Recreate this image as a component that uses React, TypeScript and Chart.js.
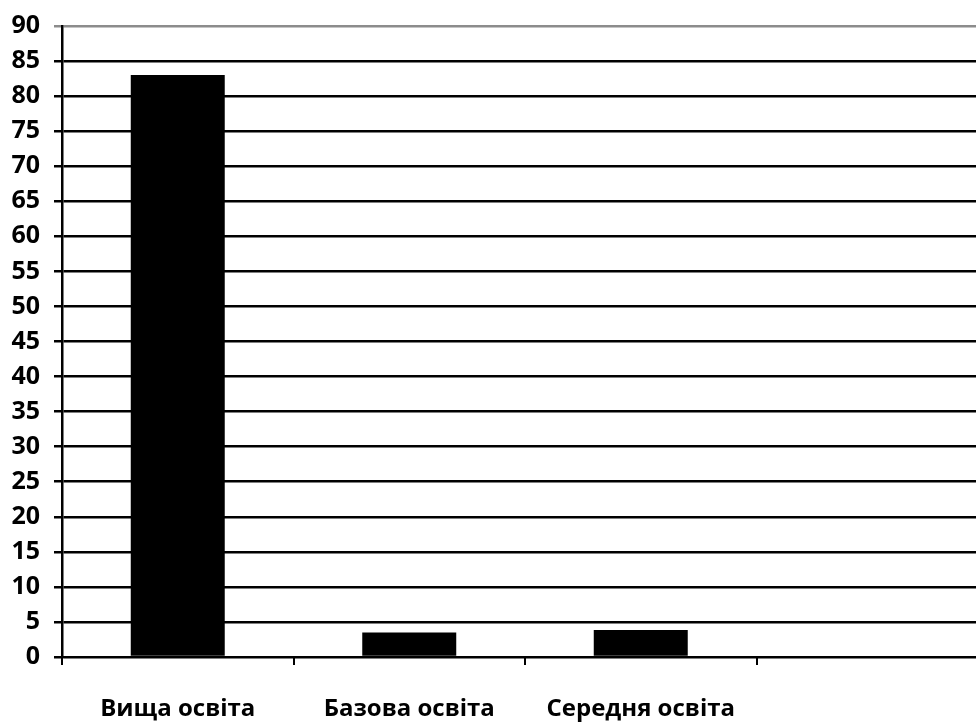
import React, { useEffect, useRef } from "react";
import { Chart, registerables } from "chart.js";

Chart.register(...registerables);

// Share of respondents by education level, %
const categories = ["Вища освіта", "Базова освіта", "Середня освіта", ""];
const values = [83, 3.5, 3.85, null];
const yMin = 0;
const yMax = 90;
const yStep = 5;

const FONT = "'Open Sans', 'DejaVu Sans', sans-serif";

export default function App() {
  const canvasRef = useRef<HTMLCanvasElement | null>(null);

  useEffect(() => {
    const canvas = canvasRef.current;
    if (!canvas) return;
    const chart = new Chart(canvas, {
      type: "bar",
      data: {
        labels: categories,
        datasets: [
          {
            data: values as any,
            backgroundColor: "#000000",
            borderWidth: 0,
            categoryPercentage: 1,
            barPercentage: 0.406,
          },
        ],
      },
      options: {
        responsive: false,
        animation: false,
        devicePixelRatio: 1,
        layout: { padding: { top: 26, right: 2, left: 0, bottom: 0 } },
        plugins: {
          legend: { display: false },
          tooltip: { enabled: false },
        },
        scales: {
          x: {
            type: "category",
            offset: true,
            afterFit: (scale: any) => {
              scale.height = 65;
            },
            grid: {
              offset: true,
              drawOnChartArea: false,
              drawTicks: true,
              tickLength: 8,
              color: "#000000",
              lineWidth: 2,
            },
            border: { display: true, color: "#000000", width: 2 },
            ticks: {
              color: "#000000",
              padding: 30,
              maxRotation: 0,
              autoSkip: false,
              font: { family: FONT, size: 24, weight: "bold" },
            },
          },
          y: {
            min: yMin,
            max: yMax,
            afterFit: (scale: any) => {
              scale.width = 62;
              scale.paddingTop = 0;
              scale.paddingBottom = 0;
            },
            grid: {
              color: (ctx: any) => (ctx.tick && ctx.tick.value === yMax ? "#8c8c8c" : "#000000"),
              lineWidth: 2.5,
              drawTicks: true,
              tickLength: 8,
            },
            border: { display: true, color: "#000000", width: 2.5 },
            ticks: {
              stepSize: yStep,
              color: "#000000",
              padding: 14,
              font: { family: FONT, size: 25, weight: "bold" },
            },
          },
        },
      },
    });
    return () => chart.destroy();
  }, []);

  return (
    <div
      style={{
        position: "fixed",
        left: 0,
        top: 0,
        width: 976,
        height: 722,
        overflow: "hidden",
        background: "#ffffff",
      }}
    >
      <canvas ref={canvasRef} width={990} height={722} style={{ display: "block" }} />
    </div>
  );
}
